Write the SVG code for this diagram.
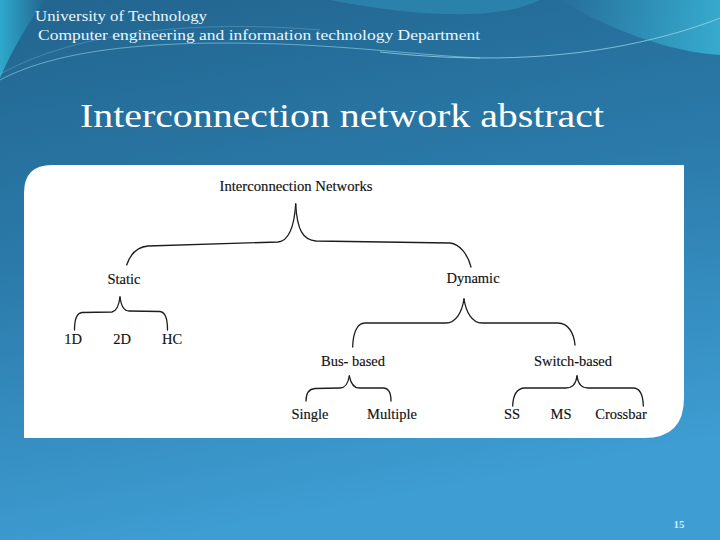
<svg xmlns="http://www.w3.org/2000/svg" width="720" height="540" viewBox="0 0 720 540">
<defs>
<linearGradient id="bg" x1="0" y1="0" x2="0.25" y2="1">
<stop offset="0" stop-color="#22658f"/>
<stop offset="0.45" stop-color="#2a79a8"/>
<stop offset="1" stop-color="#3e9dd3"/>
</linearGradient>
<linearGradient id="cy" x1="0" y1="0" x2="1" y2="0">
<stop offset="0" stop-color="#2fb0d2" stop-opacity="0.9"/>
<stop offset="1" stop-color="#2fb0d2" stop-opacity="0"/>
</linearGradient>
<linearGradient id="cy2" x1="1" y1="0" x2="0" y2="0">
<stop offset="0" stop-color="#3ab8d8" stop-opacity="0.8"/>
<stop offset="1" stop-color="#3ab8d8" stop-opacity="0"/>
</linearGradient>
<style>
.hd{font-family:"Liberation Serif","DejaVu Serif",serif;fill:#eaf6fb;font-size:15px}
.ttl{font-family:"Liberation Serif","DejaVu Serif",serif;fill:#ffffff;font-size:34px}
.lb{font-family:"Liberation Serif","DejaVu Serif",serif;fill:#111111;font-size:14.5px;text-anchor:middle;stroke:#111111;stroke-width:0.15}
.br{fill:none;stroke:#1e1e1e;stroke-width:1.3;stroke-linecap:round}
.wv{fill:none;stroke:#9fe0ef;stroke-width:1}
</style>
</defs>
<rect x="0" y="0" width="720" height="540" fill="url(#bg)"/>
<path d="M0,0 L45,0 C30,20 12,50 0,78 Z" fill="url(#cy)"/>
<path d="M330,0 L540,0 C500,20 420,18 330,0 Z" fill="#2f8fb8" opacity="0.6"/>
<path d="M560,0 L720,0 L720,55 C670,52 610,30 560,0 Z" fill="url(#cy2)"/>
<path d="M0,80 C60,48 160,40 280,44 C360,47 420,55 480,58" class="wv" opacity="0.55"/>
<path d="M380,52 C470,62 560,60 640,42 C680,33 705,24 720,18" class="wv" opacity="0.7"/>
<path d="M0,74 C80,30 200,20 320,30" class="wv" opacity="0.25"/>
<g id="header">
<text class="hd" x="35" y="21" textLength="172" lengthAdjust="spacingAndGlyphs">University of Technology</text>
<text class="hd" x="38" y="40" textLength="442" lengthAdjust="spacingAndGlyphs">Computer engineering and information technology Department</text>
</g>
<text class="ttl" x="80" y="127" textLength="524" lengthAdjust="spacingAndGlyphs">Interconnection network abstract</text>
<path id="panel" d="M52,165 L684,165 L684,398 Q684,438 644,438 L24,438 L24,193 Q24,165 52,165 Z" fill="#ffffff"/>
<g id="connectors">
<path class="br" d="M126.7,265 C130,255 136,247 148,246 L278,242 C288,241 294,230 295.7,204"/>
<path class="br" d="M295.7,204 C297,230 303,240 316,241 L450,243 C460,244 468,255 471,267"/>
<path class="br" d="M120,297 C119,305 117,311 112,312 L82,312.5 C77,313 74.5,318 74.5,330"/>
<path class="br" d="M120,297 C121,305 124,311 129,311 L160,311.5 C165,312 167.5,318 167.5,330"/>
<path class="br" d="M464,299 C462,312 456,323 446,323 L365,323 C357,323 353,333 352.7,347"/>
<path class="br" d="M464,299 C466,312 472,323 482,323 L558,323 C568,323 574,333 575,345"/>
<path class="br" d="M349.3,376 C348,384 345,388 340,388 L315,388.5 C309,389 306,393 306,401"/>
<path class="br" d="M349.3,376 C351,384 354,388 359,388 L383,388 C389,388 391,393 391,401"/>
<path class="br" d="M577,376 C576,384 572,388 566,388 L524,388 C516,389 513,395 512.7,406"/>
<path class="br" d="M577,376 C578,384 582,388 588,388 L633,388 C640,388 643,395 643.3,406"/>
</g>
<g id="n-root"><text class="lb" x="296" y="191" textLength="153" lengthAdjust="spacingAndGlyphs">Interconnection Networks</text></g>
<g id="n-static"><text class="lb" x="124" y="284">Static</text></g>
<g id="n-dynamic"><text class="lb" x="473" y="283">Dynamic</text></g>
<g id="n-1d"><text class="lb" x="73" y="344">1D</text></g>
<g id="n-2d"><text class="lb" x="122" y="344">2D</text></g>
<g id="n-hc"><text class="lb" x="172" y="344">HC</text></g>
<g id="n-bus"><text class="lb" x="353" y="366">Bus- based</text></g>
<g id="n-switch"><text class="lb" x="573" y="366">Switch-based</text></g>
<g id="n-single"><text class="lb" x="310" y="419">Single</text></g>
<g id="n-multiple"><text class="lb" x="392" y="419">Multiple</text></g>
<g id="n-ss"><text class="lb" x="512" y="419">SS</text></g>
<g id="n-ms"><text class="lb" x="561" y="419">MS</text></g>
<g id="n-crossbar"><text class="lb" x="621" y="419">Crossbar</text></g>
<text x="679" y="528" font-family="Liberation Serif, serif" font-size="11" font-weight="bold" fill="#c8eef9" text-anchor="middle">15</text>
</svg>
